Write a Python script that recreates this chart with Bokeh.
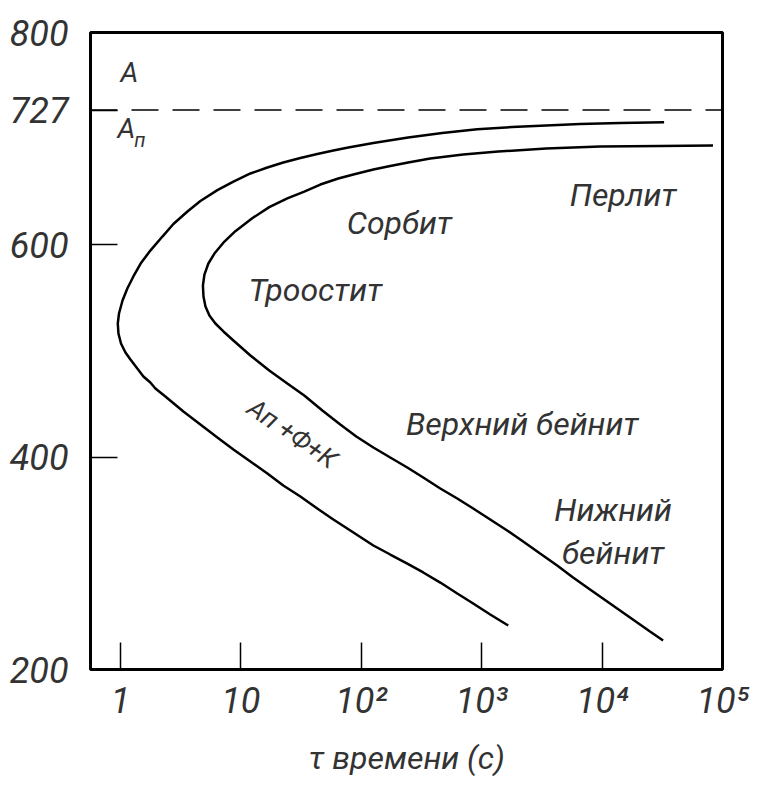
from bokeh.plotting import figure
from bokeh.models import Range1d, FixedTicker, Span, ColumnDataSource
from bokeh.core.properties import value
from bokeh.embed import file_html
from bokeh.resources import INLINE

# ---- data ----
# start of transformation curve (time, s ; temperature, C)
start_t = [32730, 14100, 6560, 3430, 1791, 918, 470, 245, 126, 78, 58.6, 43.1,
           31.2, 22.5, 16.6, 12.0, 8.67, 6.38, 4.61, 3.60, 2.75, 2.23, 1.77, 1.47,
           1.28, 1.14, 1.04, 0.972, 0.950, 0.962, 1.01, 1.10, 1.21, 1.38, 1.55, 1.77,
           1.95, 2.36, 3.33, 4.61, 6.38, 8.67, 12.0, 16.6, 22.5, 31.2, 43.1, 58.6,
           81.1, 126, 174, 241, 327, 453, 627, 850, 1177, 1660]
start_T = [715.5, 714.7, 713.8, 712.4, 711.0, 708.8, 705.3, 701.1, 695.9, 691.7, 688.8, 685.5,
           681.8, 677.5, 672.8, 667.2, 659.6, 651.5, 641.3, 631.4, 619.6, 607.8, 594.6, 582.4,
           570.2, 558.9, 547.6, 535.3, 525.9, 516.5, 507.1, 498.6, 492.0, 483.5, 476.0, 470.3,
           464.7, 457.1, 443.0, 430.8, 418.5, 407.2, 395.9, 384.6, 373.3, 362.9, 351.6, 341.3,
           330.9, 316.8, 308.3, 299.8, 291.4, 281.9, 271.6, 262.2, 251.8, 241.4]
# end of transformation curve
finish_t = [83400, 30300, 9620, 3430, 1371, 702, 374, 245, 174, 126, 89.2, 64.4,
            45.7, 33.6, 24.3, 17.2, 12.5, 9.0, 7.30, 6.03, 5.37, 4.98, 4.84, 4.89,
            5.08, 5.48, 6.14, 7.16, 8.67, 12.0, 17.2, 24.3, 33.6, 47.5, 66.9, 90.9,
            126, 174, 241, 327, 453, 627, 850, 1177, 1628, 2210, 3055, 4235,
            5740, 7940, 11640, 17060, 25000, 32100]
finish_T = [693.5, 693.1, 692.6, 690.7, 687.9, 685.1, 681.3, 677.5, 674.2, 670.9, 666.7, 662.5,
            656.8, 650.2, 643.7, 635.5, 625.2, 612.9, 603.1, 591.8, 582.4, 572.0, 561.7, 551.3,
            541.9, 533.4, 525.9, 518.4, 509.9, 495.8, 481.6, 469.4, 458.1, 444.0, 430.8, 419.5,
            409.1, 399.7, 390.3, 380.8, 370.5, 361.1, 351.6, 341.3, 330.9, 320.6, 309.3, 298.0,
            286.7, 275.4, 262.2, 249.0, 235.8, 227.3]
A1_temp = 727

x_tick_values = [1, 10, 100, 1000, 10000, 100000]
x_tick_labels = ["1", "10", "10²", "10³", "10⁴", "10⁵"]
y_tick_values = [200, 400, 600, 727, 800]
y_tick_labels = ["200", "400", "600", "727", "800"]

region_text = ["Сорбит", "Перлит", "Троостит", "Верхний бейнит", "Нижний", "бейнит"]
region_t = [206.7, 14930, 41.5, 2168, 12340, 12340]
region_T = [621, 647.4, 557, 430.8, 350.7, 309.3]

FONT = "Roboto"
TXT = "#333333"

p = figure(frame_width=632, frame_height=637, x_axis_type="log",
           x_range=Range1d(10 ** (-30 / 120.5), 100000),
           y_range=Range1d(200, 800),
           output_backend="svg", toolbar_location=None,
           min_border_left=90, min_border_right=30, min_border_top=32, min_border_bottom=10)

p.background_fill_color = "white"
p.border_fill_color = "white"
p.outline_line_color = "black"
p.outline_line_width = 3
p.xgrid.grid_line_color = None
p.ygrid.grid_line_color = None

for ax in (p.xaxis[0], p.yaxis[0]):
    ax.axis_line_color = None
    ax.major_tick_in = 27
    ax.major_tick_out = 0
    ax.major_tick_line_width = 1.5
    ax.major_tick_line_color = "black"
    ax.minor_tick_line_color = None
    ax.major_label_text_font = FONT
    ax.major_label_text_font_style = "italic"
    ax.major_label_text_font_size = "36px"
    ax.major_label_text_color = TXT

p.xaxis.ticker = FixedTicker(ticks=x_tick_values)
p.xaxis.major_label_overrides = {v: l for v, l in zip(x_tick_values, x_tick_labels)}
p.xaxis.major_label_standoff = 10
p.xaxis.axis_label = "τ времени (с)"
p.xaxis.axis_label_text_font = FONT
p.xaxis.axis_label_text_font_style = "italic"
p.xaxis.axis_label_text_font_size = "32px"
p.xaxis.axis_label_text_color = TXT
p.xaxis.axis_label_standoff = 14

p.yaxis.ticker = FixedTicker(ticks=y_tick_values)
p.yaxis.major_label_overrides = {v: l for v, l in zip(y_tick_values, y_tick_labels)}
p.yaxis.major_label_standoff = 22

# A1 line
p.add_layout(Span(location=A1_temp, dimension="width", line_color="black",
                  line_width=1.5, line_dash="27 14"))

# curves
p.line(start_t, start_T, line_color="black", line_width=2.5)
p.line(finish_t, finish_T, line_color="black", line_width=2.5)

# region labels
src = ColumnDataSource(dict(x=region_t, y=region_T, t=region_text))
p.text(x="x", y="y", text="t", source=src, text_font=value(FONT),
       text_font_style="italic", text_font_size="32px", text_color=TXT,
       text_align="center", text_baseline="middle")

# A / Ап labels
p.text(x=[1.0, 0.944], y=[762.3, 709.6], text=["А", "А"], text_font=value(FONT),
       text_font_style="italic", text_font_size="28px", text_color=TXT,
       text_align="left", text_baseline="middle")
p.text(x=[1.30], y=[698.3], text=["п"], text_font=value(FONT),
       text_font_style="italic", text_font_size="20px", text_color=TXT,
       text_align="left", text_baseline="middle")

# rotated label between curves
p.text(x=[26.8], y=[422.3], text=["Ап +Ф+К"], angle=[-0.6], text_font=value(FONT),
       text_font_style="italic", text_font_size="26px", text_color=TXT,
       text_align="center", text_baseline="middle")

open("out.html", "w").write(file_html(p, INLINE))
